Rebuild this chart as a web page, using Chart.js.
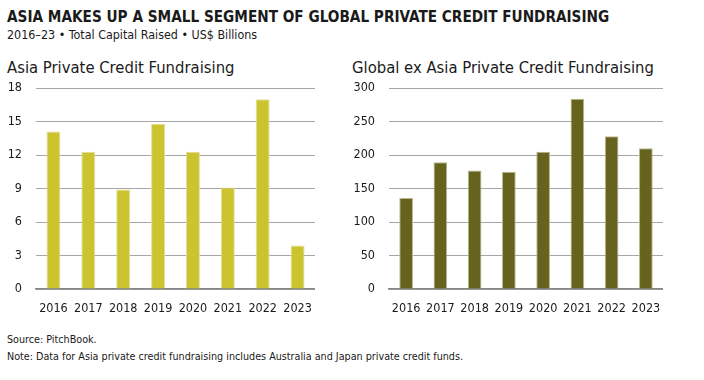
<!DOCTYPE html>
<html>
<head>
<meta charset="utf-8">
<script src="https://cdn.jsdelivr.net/npm/chart.js@4"></script>
<style>
  html, body { margin: 0; padding: 0; background: #fff; }
  body { width: 704px; height: 380px; position: relative; overflow: hidden; color: #1a1a1a; font-family: "DejaVu Sans Condensed", sans-serif; }
  .t { position: absolute; white-space: nowrap; }
  #title { left: 7px; top: 8px; font-size: 15.2px; font-weight: bold; }
  #sub { left: 7px; top: 27px; font-size: 12.4px; }
  #h1 { left: 7px; top: 58px; font-size: 16.5px; }
  #h2 { left: 352px; top: 58px; font-size: 16.5px; }
  #src { left: 7px; top: 333px; font-size: 10.7px; }
  #note { left: 7px; top: 350px; font-size: 10.7px; }
  #wrapA { position: absolute; left: 0; top: 80px; width: 315px; height: 240px; }
  #wrapB { position: absolute; left: 340px; top: 80px; width: 323px; height: 240px; }
</style>
</head>
<body>
<div class="t" id="title">ASIA MAKES UP A SMALL SEGMENT OF GLOBAL PRIVATE CREDIT FUNDRAISING</div>
<div class="t" id="sub">2016–23 • Total Capital Raised • US$ Billions</div>
<div class="t" id="h1">Asia Private Credit Fundraising</div>
<div class="t" id="h2">Global ex Asia Private Credit Fundraising</div>
<div id="wrapA"><canvas id="asiaChart"></canvas></div>
<div id="wrapB"><canvas id="globalChart"></canvas></div>
<div class="t" id="src">Source: PitchBook.</div>
<div class="t" id="note">Note: Data for Asia private credit fundraising includes Australia and Japan private credit funds.</div>

<script>
const years = ['2016', '2017', '2018', '2019', '2020', '2021', '2022', '2023'];
const asiaValues = [14.1, 12.3, 8.9, 14.8, 12.3, 9.1, 17.0, 3.9];
const globalValues = [136, 189, 177, 175, 205, 284, 228, 210];
const asiaTicks = [0, 3, 6, 9, 12, 15, 18];
const globalTicks = [0, 50, 100, 150, 200, 250, 300];

function makeChart(id, values, color, edge, tickValues, axisWidth) {
    const ctx = document.getElementById(id).getContext('2d');
    return new Chart(ctx, {
        type: 'bar',
        data: {
            labels: years,
            datasets: [{
                data: values,
                backgroundColor: color,
                borderColor: edge,
                borderWidth: { top: 1, left: 1, right: 1, bottom: 0 },
                barPercentage: 0.4,
                categoryPercentage: 1
            }]
        },
        options: {
            responsive: true,
            maintainAspectRatio: false,
            animation: false,
            layout: { padding: { top: 8, right: 0, bottom: 0, left: 0 } },
            plugins: { legend: { display: false }, tooltip: { enabled: false } },
            scales: {
                x: {
                    grid: { display: false, drawTicks: false },
                    border: { color: '#858585', width: 1.5 },
                    ticks: {
                        color: '#1a1a1a',
                        padding: 12,
                        maxRotation: 0,
                        font: { family: 'DejaVu Sans Condensed', size: 12.5 }
                    },
                    afterFit: function(scale) {
                        scale.height = 31;
                        scale.paddingLeft = 0;
                        scale.paddingRight = 0;
                    }
                },
                y: {
                    min: tickValues[0],
                    max: tickValues[tickValues.length - 1],
                    afterBuildTicks: function(scale) {
                        scale.ticks = tickValues.map(v => ({ value: v }));
                    },
                    grid: { color: '#a6a6a6', lineWidth: 1, drawTicks: false },
                    border: { display: false },
                    ticks: {
                        color: '#1a1a1a',
                        padding: 14,
                        font: { family: 'DejaVu Sans Condensed', size: 12.5 }
                    },
                    afterFit: function(scale) {
                        scale.width = axisWidth;
                        scale.paddingTop = 0;
                        scale.paddingBottom = 0;
                    }
                }
            }
        }
    });
}

makeChart('asiaChart', asiaValues, '#cbc42f', '#e2dd98', asiaTicks, 36);
makeChart('globalChart', globalValues, '#65631d', '#b9b78f', globalTicks, 49);
</script>
</body>
</html>
